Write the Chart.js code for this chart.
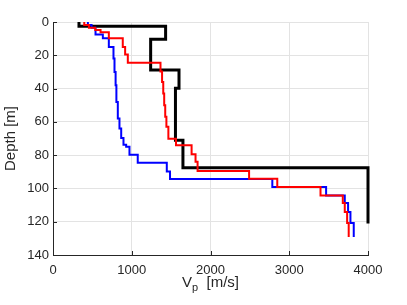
<!DOCTYPE html>
<html>
<head>
<meta charset="utf-8">
<script src="https://cdn.jsdelivr.net/npm/chart.js@4.4.0/dist/chart.umd.min.js"></script>
<style>
  body { margin: 0; background: #fff; }
</style>
</head>
<body>
<canvas id="vpChart" width="407" height="305"></canvas>
<script>
// layer tops [m] and Vp [m/s] for each profile, plus the bottom depth
const blackDepth = [0, 2.6, 10.4, 28.8, 39.8, 71, 87.5];
const blackVp    = [330, 1430, 1240, 1600, 1555, 1650, 4000];
const blackBottom = 121;

const blueDepth = [0, 1.8, 3.4, 7.5, 9.8, 15, 22, 30, 38, 48, 58, 64, 69.7, 73.7, 75, 79.7, 84.6, 89.8, 94.4, 99.2, 104.2, 108.8, 114.2, 120.8];
const blueVp    = [443, 490, 540, 633, 709, 768, 781, 795, 805, 823, 844, 866, 895, 929, 971, 1076, 1445, 1486, 2785, 3468, 3705, 3747, 3777, 3819];
const blueBottom = 129.2;

const redDepth = [0, 1.8, 3.4, 4.8, 6.2, 9.8, 15, 19.5, 24.5, 29.7, 36, 43, 50, 57, 63, 70.1, 74, 79.5, 84, 89.5, 94.2, 99.2, 104.2, 108.8, 114.2, 120.8];
const redVp    = [397, 456, 537, 604, 709, 886, 916, 950, 1365, 1385, 1400, 1412, 1425, 1440, 1465, 1562, 1760, 1810, 1836, 2490, 2848, 3397, 3680, 3705, 3735, 3755];
const redBottom = 129.2;

const xTicks = [0, 1000, 2000, 3000, 4000];
const yTicks = [0, 20, 40, 60, 80, 100, 120, 140];

function profile(depths, vps, bottom) {
    const pts = depths.map((d, i) => ({ x: vps[i], y: d }));
    pts.push({ x: vps[vps.length - 1], y: bottom });
    return pts;
}

const axisColor = '#262626';
const gridColor = '#e3e3e3';

const inwardTicks = {
    id: 'inwardTicks',
    beforeDatasetsDraw(chart) {
        const ctx = chart.ctx;
        const a = chart.chartArea;
        const xs = chart.scales.x, ys = chart.scales.y;
        ctx.save();
        ctx.strokeStyle = axisColor;
        ctx.lineWidth = 1;
        ctx.beginPath();
        yTicks.forEach(v => {
            const y = Math.round(ys.getPixelForValue(v)) + 0.5;
            ctx.moveTo(a.left, y);
            ctx.lineTo(a.left + 4, y);
        });
        xTicks.forEach(v => {
            const x = Math.round(xs.getPixelForValue(v)) + 0.5;
            ctx.moveTo(x, a.bottom);
            ctx.lineTo(x, a.bottom - 4);
        });
        ctx.stroke();
        ctx.restore();
    }
};

const xTitle = {
    id: 'xTitle',
    afterDraw(chart) {
        const ctx = chart.ctx;
        const a = chart.chartArea;
        const big = '15px "Liberation Sans", Arial, sans-serif';
        const small = '11px "Liberation Sans", Arial, sans-serif';
        ctx.save();
        ctx.fillStyle = axisColor;
        ctx.textBaseline = 'alphabetic';
        ctx.font = big;
        const wV = ctx.measureText('V').width;
        const wRest = ctx.measureText('  [m/s]').width;
        ctx.font = small;
        const wP = ctx.measureText('p').width;
        let x = (a.left + a.right) / 2 - (wV + wP + wRest) / 2;
        const base = 287;
        ctx.font = big;
        ctx.fillText('V', x, base);
        x += wV;
        ctx.font = small;
        ctx.fillText('p', x, base + 4);
        x += wP;
        ctx.font = big;
        ctx.fillText('  [m/s]', x, base);
        ctx.restore();
    }
};

new Chart(document.getElementById('vpChart').getContext('2d'), {
    type: 'line',
    data: {
        datasets: [
            { label: 'black', data: profile(blackDepth, blackVp, blackBottom), borderColor: '#000000', borderWidth: 3, order: 3 },
            { label: 'blue', data: profile(blueDepth, blueVp, blueBottom), borderColor: '#0000ff', borderWidth: 2, order: 2 },
            { label: 'red', data: profile(redDepth, redVp, redBottom), borderColor: '#ff0000', borderWidth: 2, order: 1 }
        ]
    },
    options: {
        responsive: false,
        animation: false,
        devicePixelRatio: 1,
        layout: { padding: { left: 0, top: 22, right: 39, bottom: 0 } },
        datasets: {
            line: { stepped: 'after', pointRadius: 0, fill: false, tension: 0, clip: 6, borderJoinStyle: 'miter' }
        },
        plugins: {
            legend: { display: false },
            tooltip: { enabled: false }
        },
        scales: {
            x: {
                type: 'linear',
                min: 0,
                max: 4000,
                afterFit: s => { s.height = 50; },
                afterBuildTicks: s => { s.ticks = xTicks.map(v => ({ value: v })); },
                ticks: { color: axisColor, font: { family: '"Liberation Sans", Arial, sans-serif', size: 13 }, padding: 8, maxRotation: 0, callback: v => String(v) },
                grid: { color: gridColor, drawTicks: false },
                border: { color: axisColor }
            },
            y: {
                type: 'linear',
                reverse: true,
                min: 0,
                max: 140,
                afterFit: s => { s.width = 53; },
                afterBuildTicks: s => { s.ticks = yTicks.map(v => ({ value: v })); },
                ticks: { color: axisColor, font: { family: '"Liberation Sans", Arial, sans-serif', size: 13 }, padding: 4, callback: v => String(v) },
                grid: { color: gridColor, drawTicks: false },
                border: { color: axisColor },
                title: { display: true, text: 'Depth [m]', color: axisColor, font: { family: '"Liberation Sans", Arial, sans-serif', size: 15 }, padding: { top: 2, bottom: 0 } }
            }
        }
    },
    plugins: [inwardTicks, xTitle]
});
</script>
</body>
</html>
